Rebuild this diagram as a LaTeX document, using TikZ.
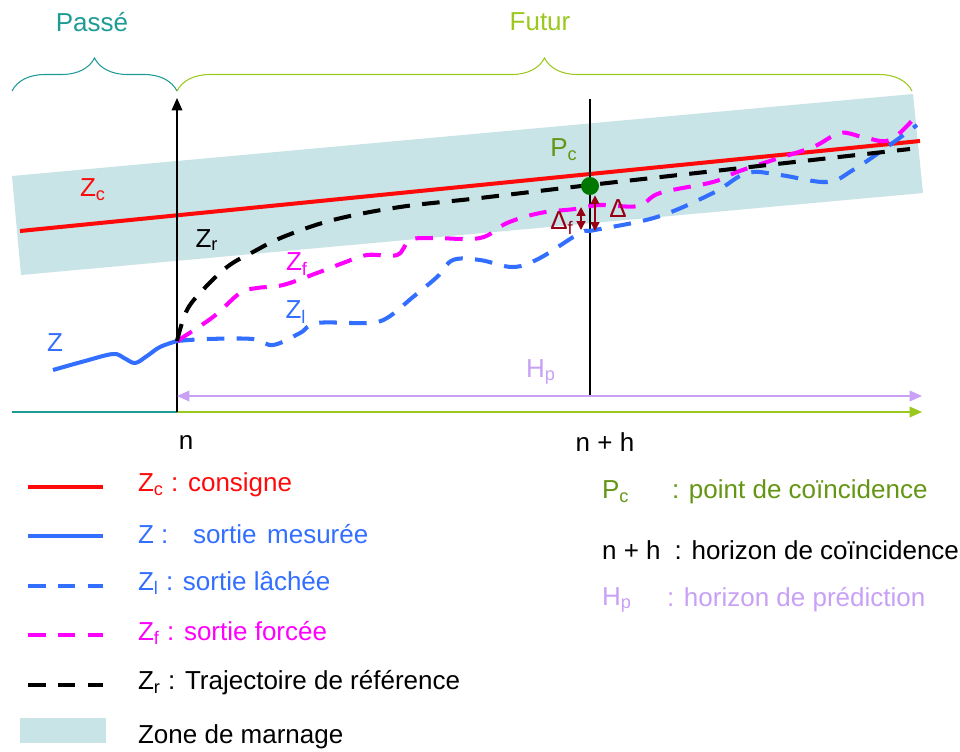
\documentclass[tikz,border=0pt]{standalone}
\usepackage{fontspec}
\setmainfont{Liberation Sans}
\usetikzlibrary{arrows.meta,decorations.pathreplacing}
\definecolor{marnage}{RGB}{200,228,230}
\definecolor{passe}{RGB}{30,155,150}
\definecolor{futur}{RGB}{155,200,30}
\definecolor{pcgreen}{RGB}{100,150,20}
\definecolor{zred}{RGB}{255,10,10}
\definecolor{zblue}{RGB}{50,110,255}
\definecolor{zmag}{RGB}{255,0,255}
\definecolor{hplilac}{RGB}{200,160,245}
\definecolor{deltared}{RGB}{150,0,20}
\definecolor{dotgreen}{RGB}{0,120,0}

\begin{document}
\begin{tikzpicture}[x=0.02cm,y=-0.02cm,font=\fontsize{14.8}{18}\selectfont,
  txt/.style={inner sep=1pt},
  lg/.style={inner sep=1pt,anchor=west},
  solid2/.style={line width=2.3pt},
  dsh/.style={line width=2.3pt,dash pattern=on 10pt off 7pt},
  axe/.style={line width=0.9pt},
  brc/.style={decorate,decoration={brace,amplitude=0.66cm},line width=0.6pt},
  tri/.style={-{Triangle[length=7pt,width=6pt]}},
  dbl/.style={{Triangle[length=5pt,width=5pt]}-{Triangle[length=5pt,width=5pt]}}]
\useasboundingbox (0,0) rectangle (960,751);
\coordinate (o) at (177,412);
\coordinate (z0) at (177,341);
\coordinate (nh) at (590,412);

\fill[marnage] (12,176) -- (913,94) -- (923,193) -- (21,275) -- cycle;
\draw[zred,solid2] (20,231) -- (920,141);

\draw[brc,passe] (12,91) -- (177,91);
\draw[brc,futur] (177,91) -- (912,91);
\node[txt,passe] (passe) at (92,22) {Passé};
\node[txt,futur] (futur) at (540,22) {Futur};

\draw[axe,passe] (12,412) -- (o);
\draw[axe,futur,tri] (o) -- (922,412);
\draw[axe,tri] (o) -- (177,98);
\draw[axe] (590,99) -- (590,396);
\draw[hplilac,line width=1pt,{Triangle[length=7pt,width=6pt]}-{Triangle[length=7pt,width=6pt]}] (177,396) -- (922,396);

\draw[zblue,solid2] plot[smooth,tension=0.6] coordinates {(53,370) (85,361) (113,354) (124,358) (135,363) (147,356) (160,347) (z0)};
\draw[zblue,dsh] plot[smooth,tension=0.6] coordinates {(z0) (207,339) (253,339) (273,345) (300,333) (317,323) (367,323) (387,318) (413,297) (437,277) (453,260) (480,260) (513,267) (540,258) (580,233) (595,230) (657,217) (713,193) (747,173) (780,175) (827,182) (853,170) (887,147) (917,125)};
\draw[zmag,dsh] plot[smooth,tension=0.6] coordinates {(z0) (213,317) (240,293) (257,288) (283,285) (317,273) (343,263) (367,255) (397,255) (410,240) (433,238) (480,238) (507,223) (540,213) (575,209) (600,205) (638,206) (660,193) (713,182) (737,172) (773,160) (813,147) (840,133) (863,137) (890,140) (917,115)};
\draw[black,dsh] plot[smooth,tension=0.6] coordinates {(z0) (186,312) (200,293) (227,267) (253,252) (283,237) (333,220) (400,207) (480,198) (590,185) (750,167) (910,149)};

\node[circle,fill=dotgreen,inner sep=0pt,minimum size=0.36cm] (pc) at (590,186) {};
\draw[deltared,line width=0.8pt,dbl] (581,207) -- (581,230);
\draw[deltared,line width=0.8pt,dbl] (pc.south -| 595,0) -- (595,231);

\node[txt,zred] (lzc) at (93,190) {Z\textsubscript{c}};
\node[txt] (lzr) at (207,240) {Z\textsubscript{r}};
\node[txt,zmag] (lzf) at (297,264) {Z\textsubscript{f}};
\node[txt,zblue] (lzl) at (296,312) {Z\textsubscript{l}};
\node[txt,zblue] (lz) at (55,343) {Z};
\node[txt,pcgreen] (lpc) at (564,150) {P\textsubscript{c}};
\node[txt,deltared] (ldf) at (562,223) {Δ\textsubscript{f}};
\node[txt,deltared] (ld) at (618,209) {Δ};
\node[txt,hplilac] (lhp) at (541,372) {H\textsubscript{p}};
\node[txt] (ln) at (186,442) {n};
\node[txt] (lnh) at (605,442) {n + h};

\draw[zred,solid2] (28,487) -- (103,487);
\draw[zblue,solid2] (28,536) -- (103,536);
\draw[zblue,dsh] (28,586) -- (103,586);
\draw[zmag,dsh] (28,635) -- (103,635);
\draw[black,dsh] (28,685) -- (103,685);
\fill[marnage] (20,718) rectangle (106,743);
\node[lg,zred] (gzc) at (136,485) {Z\textsubscript{c} : consigne};
\node[lg,zblue] (gz) at (136,534) {Z :\hspace{14pt}sortie\hspace{6pt}mesurée};
\node[lg,zblue] (gzl) at (136,583) {Z\textsubscript{l} : sortie lâchée};
\node[lg,zmag] (gzf) at (136,633) {Z\textsubscript{f} : sortie forcée};
\node[lg] (gzr) at (136,683) {Z\textsubscript{r} : Trajectoire de référence};
\node[lg] (gzm) at (136,737) {Zone de marnage};

\node[lg,pcgreen] (gpc) at (600,492) {P\textsubscript{c}};
\node[lg,pcgreen] (gpct) at (670,492) {: point de coïncidence};
\node[lg] (gnh) at (600,550) {n + h\hspace{8pt}: horizon de coïncidence};
\node[lg,hplilac] (ghp) at (600,600) {H\textsubscript{p}};
\node[lg,hplilac] (ghpt) at (665,600) {: horizon de prédiction};
\end{tikzpicture}
\end{document}
